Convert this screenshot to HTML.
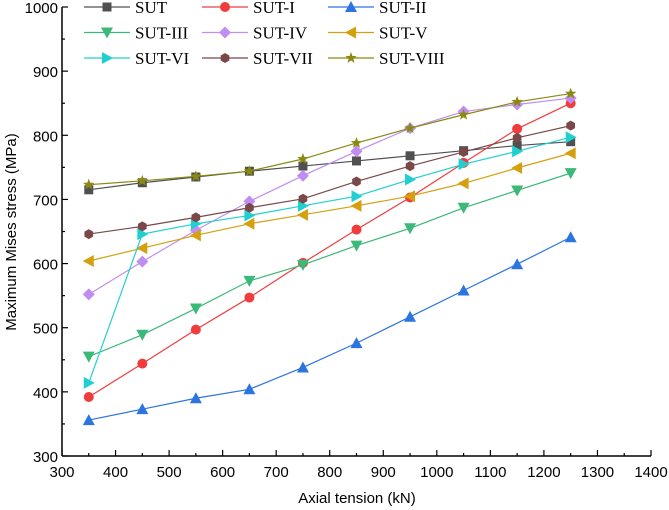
<!DOCTYPE html>
<html><head><meta charset="utf-8"><style>
body{margin:0;background:#fff}
svg{display:block}
.t{font-family:"Liberation Sans",sans-serif;font-size:15px;fill:#000}
.lg{font-family:"Liberation Serif",serif;font-size:17px;fill:#000}
</style></head><body>
<svg id="c" width="669" height="510"></svg>
<script>
const xValues=[350,450,550,650,750,850,950,1050,1150,1250];
const seriesNames=["SUT","SUT-I","SUT-II","SUT-III","SUT-IV","SUT-V","SUT-VI","SUT-VII","SUT-VIII"];
const sSUT=[715,726,735,744,752,760,768,776,784,790];
const sI=[392,444,497,547,601,653,703,757,810,850];
const sII=[356,373,390,404,438,476,517,558,599,641];
const sIII=[455,489,530,573,598,628,655,687,714,741];
const sIV=[552,603,652,697,737,775,811,837,848,858];
const sV=[604,624,644,662,676,690,705,725,749,772];
const sVI=[414,646,662,675,690,705,731,755,775,797];
const sVII=[646,658,672,687,701,728,752,774,796,815];
const sVIII=[723,729,736,744,763,788,811,832,852,865];
const xTicks=[300,400,500,600,700,800,900,1000,1100,1200,1300,1400];
const yTicks=[300,400,500,600,700,800,900,1000];
const colors=["#505050","#f03c3c","#2c74e0","#3cb878","#c08ef0","#d4a010","#20d0d0","#7a4848","#8a8a10"];
const markers=["square","circle","up","down","diamond","left","right","hex","star"];
const allSeries=[sSUT,sI,sII,sIII,sIV,sV,sVI,sVII,sVIII];

const NS="http://www.w3.org/2000/svg";
const svg=document.getElementById('c');
const X0=62,X1=651,Y0=456,Y1=7;
const xs=v=>X0+(v-300)/(1400-300)*(X1-X0);
const ys=v=>Y0-(v-300)/(1000-300)*(Y0-Y1);
function mk(t,a,p){const e=document.createElementNS(NS,t);for(const k in a)e.setAttribute(k,a[k]);(p||svg).appendChild(e);return e;}
function marker(type,x,y,c,g){
  const r=5;let e;
  if(type=="square")e=mk('rect',{x:x-4.5,y:y-4.5,width:9,height:9,fill:c},g);
  else if(type=="circle")e=mk('circle',{cx:x,cy:y,r:5,fill:c},g);
  else if(type=="hex"){let p=[];for(let i=0;i<6;i++){const a=Math.PI/3*i+Math.PI/6;p.push((x+r*Math.cos(a))+","+(y+r*Math.sin(a)));}e=mk('polygon',{points:p.join(" "),fill:c},g);}
  else if(type=="star"){let p=[];for(let i=0;i<10;i++){const a=-Math.PI/2+Math.PI/5*i;const rr=i%2?2.5:6;p.push((x+rr*Math.cos(a))+","+(y+rr*Math.sin(a)));}e=mk('polygon',{points:p.join(" "),fill:c},g);}
  else{const d={up:[[0,-6],[6,5],[-6,5]],down:[[0,6],[6,-5],[-6,-5]],left:[[-6,0],[5,-6],[5,6]],right:[[6,0],[-5,-6],[-5,6]],diamond:[[0,-6],[6,0],[0,6],[-6,0]]}[type];
    e=mk('polygon',{points:d.map(q=>(x+q[0])+","+(y+q[1])).join(" "),fill:c},g);}
  
  
}
const ax=mk('g',{});


mk('line',{x1:X0,y1:Y0,x2:X1,y2:Y0,stroke:'#000','stroke-width':1.5},ax);
mk('line',{x1:X0,y1:Y0,x2:X0,y2:Y1,stroke:'#000','stroke-width':1.5},ax);
for(let v=300;v<=1400;v+=50){const x=xs(v);mk('line',{x1:x,y1:Y0,x2:x,y2:Y0-(v%100?3:6),stroke:'#000','stroke-width':1.2},ax);}
for(let v=300;v<=1000;v+=50){const y=ys(v);mk('line',{x1:X0,y1:y,x2:X0+(v%100?3:6),y2:y,stroke:'#000','stroke-width':1.2},ax);}
xTicks.forEach(v=>{const t=mk('text',{x:xs(v),y:Y0+21,'text-anchor':'middle',class:'t'},ax);t.textContent=v;});
yTicks.forEach(v=>{const t=mk('text',{x:X0-4,y:ys(v)+6,'text-anchor':'end',class:'t'},ax);t.textContent=v;});
let xt=mk('text',{x:357,y:503,'text-anchor':'middle',class:'t'});xt.textContent="Axial tension (kN)";


let yt=mk('text',{x:0,y:0,'text-anchor':'middle',class:'t',transform:'translate(16,232) rotate(-90)'});yt.textContent="Maximum Mises stress (MPa)";


allSeries.forEach((s,i)=>{
  const g=mk('g',{});
  
  
  mk('polyline',{points:s.map((v,j)=>xs(xValues[j])+","+ys(v)).join(" "),fill:'none',stroke:colors[i],'stroke-width':1.2},g);
  s.forEach((v,j)=>marker(markers[i],xs(xValues[j]),ys(v),colors[i],g));
});
const colX=[84,202,328];
seriesNames.forEach((n,i)=>{
  const g=mk('g',{});
  
  
  const cx=colX[i%3],cy=7+Math.floor(i/3)*25.5;
  mk('line',{x1:cx,y1:cy,x2:cx+46,y2:cy,stroke:colors[i],'stroke-width':1.2},g);
  marker(markers[i],cx+23,cy,colors[i],g);
  const t=mk('text',{x:cx+51,y:cy+6,class:'lg'},g);t.textContent=n;
});
</script>
</body></html>
